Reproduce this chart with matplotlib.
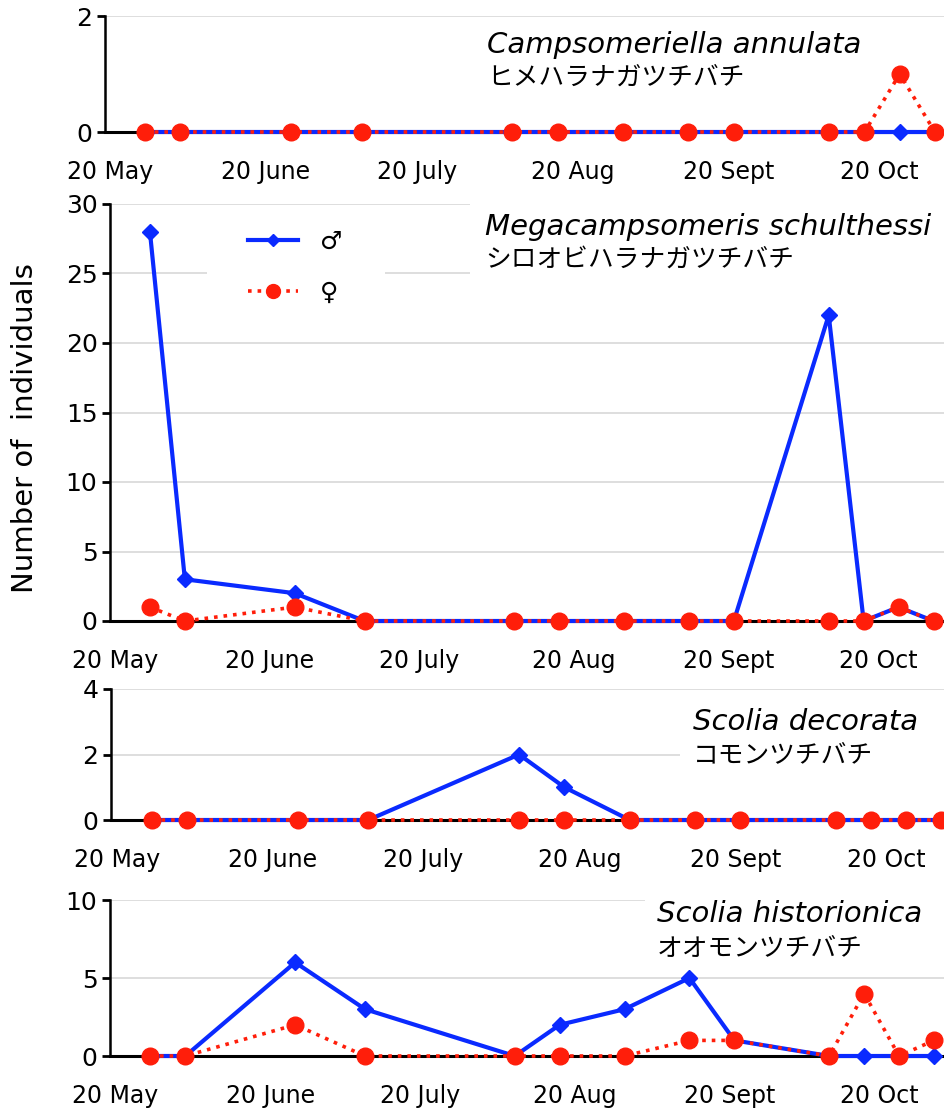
import matplotlib
matplotlib.use('Agg')
import matplotlib.pyplot as plt
from matplotlib.patches import Rectangle
from matplotlib.lines import Line2D

W, H, DPI = 944, 1110, 100

# sampling dates, in days after 20 May
sample_days = [7, 14, 36, 50, 80, 89, 102, 115, 124, 143, 150, 157, 164]
tick_days = [0, 31, 61, 92, 123, 153]
tick_labels = ['20 May', '20 June', '20 July', '20 Aug', '20 Sept', '20 Oct']

species_latin = ['Campsomeriella annulata', 'Megacampsomeris schulthessi',
                 'Scolia decorata', 'Scolia historionica']
species_jp = ['ヒメハラナガツチバチ', 'シロオビハラナガツチバチ',
              'コモンツチバチ', 'オオモンツチバチ']

male_annulata = [0, 0, 0, 0, 0, 0, 0, 0, 0, 0, 0, 0, 0]
female_annulata = [0, 0, 0, 0, 0, 0, 0, 0, 0, 0, 0, 1, 0]
male_schulthessi = [28, 3, 2, 0, 0, 0, 0, 0, 0, 22, 0, 1, 0]
female_schulthessi = [1, 0, 1, 0, 0, 0, 0, 0, 0, 0, 0, 1, 0]
male_decorata = [0, 0, 0, 0, 2, 1, 0, 0, 0, 0, 0, 0, 0]
female_decorata = [0, 0, 0, 0, 0, 0, 0, 0, 0, 0, 0, 0, 0]
male_historionica = [0, 0, 6, 3, 0, 2, 3, 5, 1, 0, 0, 0, 0]
female_historionica = [0, 0, 2, 0, 0, 0, 0, 1, 1, 0, 4, 0, 1]

males = [male_annulata, male_schulthessi, male_decorata, male_historionica]
females = [female_annulata, female_schulthessi, female_decorata, female_historionica]
y_max = [2, 30, 4, 10]
y_ticks = [[0, 2], [0, 5, 10, 15, 20, 25, 30], [0, 2, 4], [0, 5, 10]]

# layout in pixels
panels = [
    dict(left=105, top=16, bottom=132, xlim=(-1.0, 165.8),
         title=(487, 53, 78), box=None),
    dict(left=110, top=204, bottom=621, xlim=(-1.0, 166.1),
         title=(485, 235, 260), box=(470, 193, 944, 287)),
    dict(left=111, top=689, bottom=820, xlim=(-1.15, 164.5),
         title=(693, 730, 755), box=(680, 700, 944, 772)),
    dict(left=110, top=900, bottom=1056, xlim=(-1.1, 166.0),
         title=(657, 922, 948), box=(645, 888, 944, 966)),
]

BLUE = '#0a2aff'
RED = '#ff1e0a'
FONT = 'DejaVu Sans'
JP = ['Noto Sans CJK JP', 'DejaVu Sans']

fig = plt.figure(figsize=(W / DPI, H / DPI), dpi=DPI)
fig.patch.set_facecolor('white')


def fx(px):
    return px / W


def fy(py):
    return 1 - py / H


axes = []
for i, p in enumerate(panels):
    ax = fig.add_axes([fx(p['left']), fy(p['bottom']),
                       (W - p['left']) / W, (p['bottom'] - p['top']) / H])
    ax.set_facecolor('none')
    ax.set_xlim(*p['xlim'])
    ax.set_ylim(0, y_max[i])
    ax.set_yticks(y_ticks[i])
    ax.set_xticks(tick_days)
    ax.set_xticklabels(tick_labels, fontfamily=FONT)
    ax.tick_params(axis='x', length=0, pad=20, labelsize=17)
    ax.tick_params(axis='y', length=6, width=2, direction='out',
                   labelsize=18, pad=3)
    for s in ('top', 'right'):
        ax.spines[s].set_visible(False)
    ax.spines['left'].set_linewidth(1.8)
    ax.spines['bottom'].set_linewidth(2.2)
    ax.yaxis.grid(True, color='#d4d4d4', linewidth=1.1)
    ax.set_axisbelow(True)

    if p['box'] is not None:
        x0, y0, x1, y1 = p['box']
        ax.add_patch(Rectangle((fx(x0), fy(y1)), (x1 - x0) / W, (y1 - y0) / H,
                               transform=fig.transFigure, facecolor='white',
                               edgecolor='none', zorder=1.5, clip_on=False))

    ax.plot(sample_days, males[i], color=BLUE, lw=3, marker='D', ms=8.5,
            zorder=3, clip_on=False)
    ax.plot(sample_days, females[i], color=RED, lw=2.6, linestyle=':',
            marker='o', ms=12, zorder=4, clip_on=False)

    tx, ty_lat, ty_jp = p['title']
    fig.text(fx(tx), fy(ty_lat), species_latin[i], fontsize=21,
             fontstyle='italic', family=FONT, ha='left', va='baseline')
    fig.text(fx(tx), fy(ty_jp), species_jp[i], fontsize=18.5, family=JP,
             ha='left', va='center')
    axes.append(ax)

# legend in second panel
ax2 = axes[1]
ax2.add_patch(Rectangle((fx(207), fy(318)), (385 - 207) / W, (318 - 225) / H,
                        transform=fig.transFigure, facecolor='white',
                        edgecolor='none', zorder=1.5, clip_on=False))
handles = [Line2D([], [], color=BLUE, lw=3, marker='D', ms=6.5),
           Line2D([], [], color=RED, lw=2.6, linestyle=':', marker='o', ms=10)]
leg = ax2.legend(handles, ['♂', '♀'], loc='upper left',
                 bbox_to_anchor=(fx(240), fy(222)), bbox_transform=fig.transFigure,
                 frameon=False, fontsize=18, handlelength=2.0,
                 handletextpad=0.9, labelspacing=1.1, borderpad=0.3,
                 borderaxespad=0)
leg.set_zorder(5)

fig.text(fx(25), fy(428), 'Number of  individuals', rotation=90,
         fontsize=21, family=FONT, ha='center', va='center')

fig.savefig('out.png', dpi=DPI)
